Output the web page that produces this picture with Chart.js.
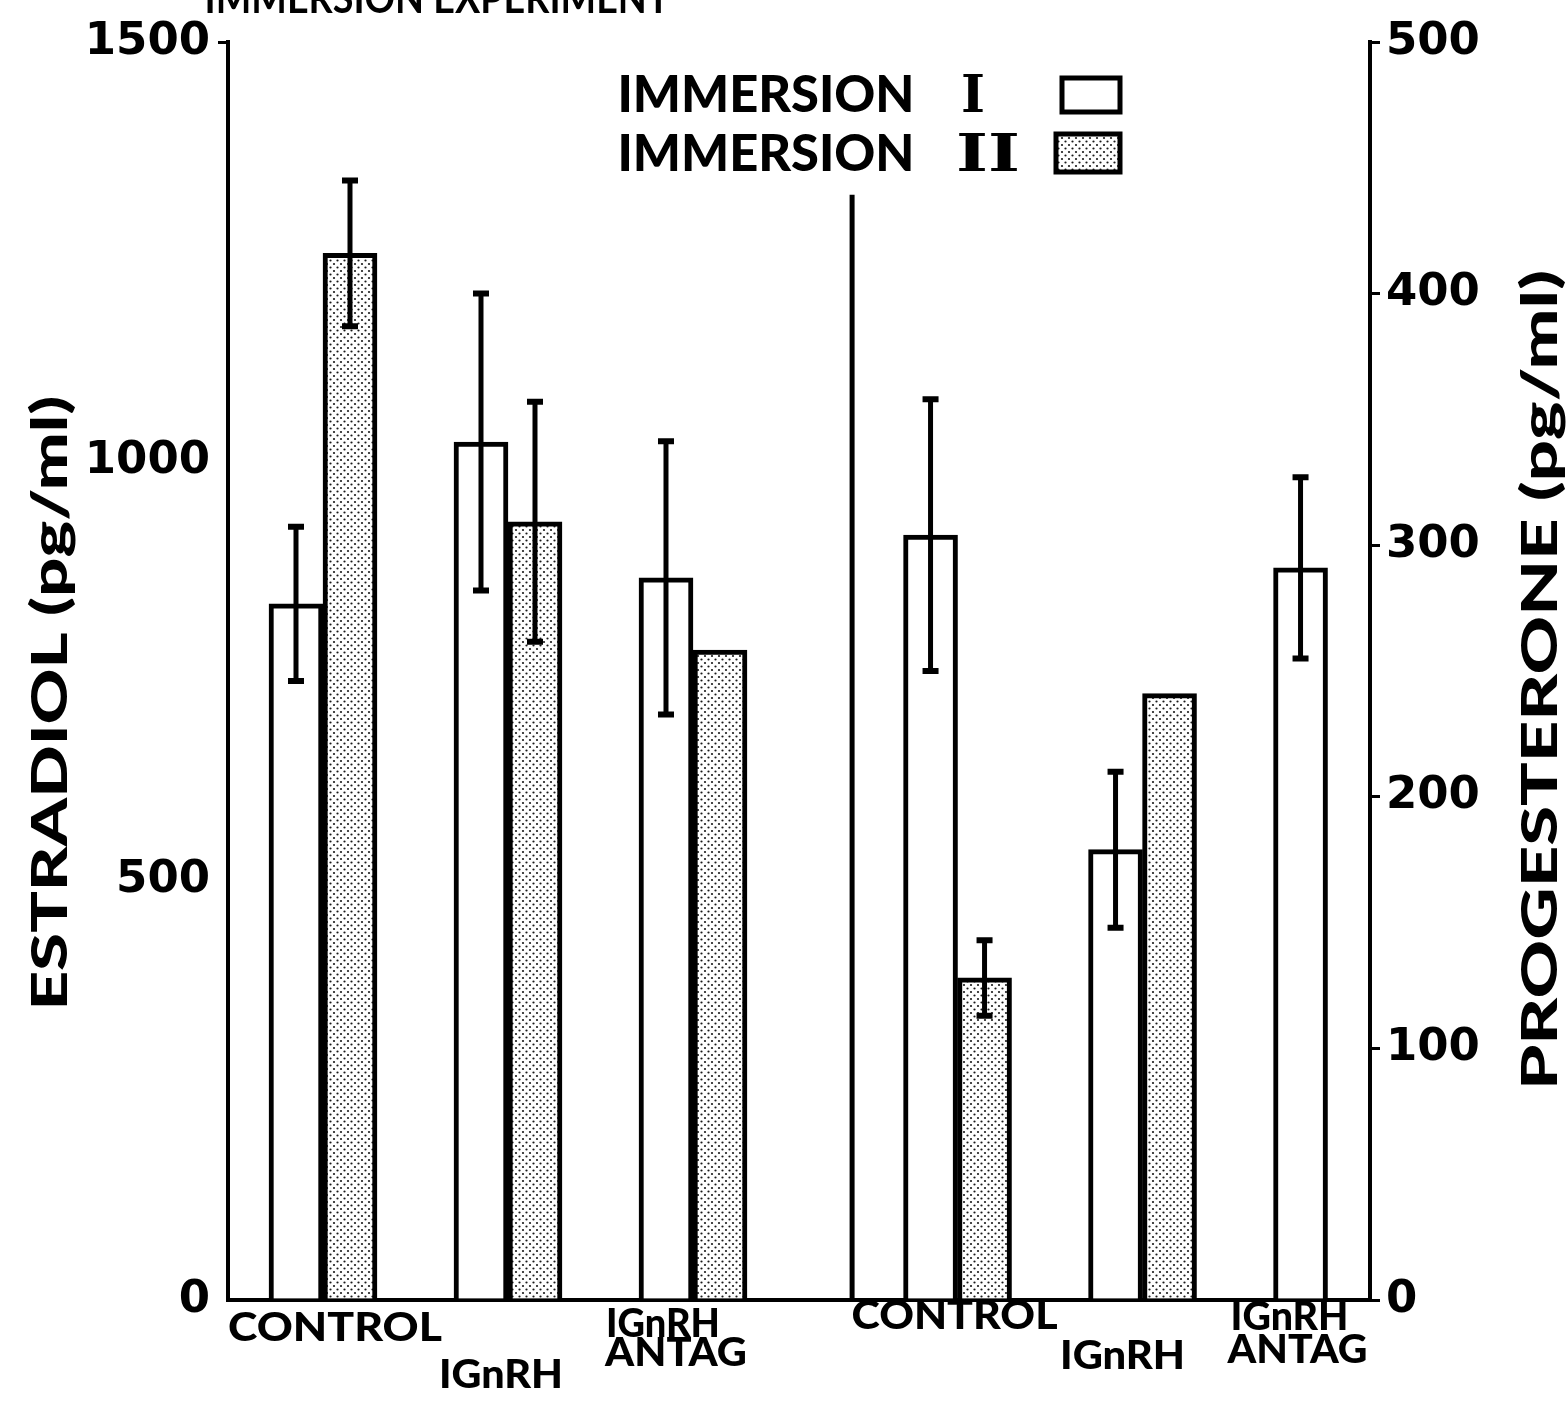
<!DOCTYPE html>
<html><head><meta charset="utf-8">
<script src="https://cdn.jsdelivr.net/npm/chart.js@4.4.1/dist/chart.umd.min.js"></script>
<style>html,body{margin:0;padding:0;background:#fff;} #wrap{width:1567px;height:1405px;position:relative;}</style>
</head><body><div id="wrap"><canvas id="c" width="1567" height="1405"></canvas></div>
<script>
// ---------------- DATA ----------------
const groupLabels = [['CONTROL'], ['IGnRH'], ['IGnRH', 'ANTAG'], ['CONTROL'], ['IGnRH'], ['IGnRH', 'ANTAG']];
const seriesNames = ['IMMERSION I', 'IMMERSION II'];
const estradiolI = [830, 1023, 861];
const estradiolII = [1248, 928, 775];
const estradiolErrI = [92, 177, 163];
const estradiolErrII = [87, 143, null];
const progesteroneI = [304, 179, 291];
const progesteroneII = [128, 241, null];
const progesteroneErrI = [54, 31, 36];
const progesteroneErrII = [15, null, null];
const estradiolTicks = [0, 500, 1000, 1500];
const progesteroneTicks = [0, 100, 200, 300, 400, 500];
const titleText = 'IMMERSION EXPERIMENT';
const leftTitle = 'ESTRADIOL (pg/ml)';
const rightTitle = 'PROGESTERONE (pg/ml)';

// ---------------- LAYOUT ----------------
const GAP = 0.43;                 // extra space between the two hormone groups
const groupPos = i => i + (i >= 3 ? GAP : 0);
const X_MIN = -0.5135, X_MAX = 5.6595;
const SEP_POS = 2.86, SEP_TOP = 1318;
const labelLayout = [
  [{dx: 12, cy: 1326, w: 214}],
  [{dx: -7, cy: 1373, w: 124}],
  [{dx: -30, cy: 1322, w: 114}, {dx: -17, cy: 1351, w: 142}],
  [{dx: -3, cy: 1314, w: 206}],
  [{dx: -20, cy: 1354, w: 125}],
  [{dx: -38, cy: 1315, w: 118}, {dx: -30, cy: 1348, w: 140}]
];
const FONT = 'Lato';
const TICK_FONT = {family: 'DejaVu Sans', weight: 'bold', size: 45};

const canvas = document.getElementById('c');
const ctx0 = canvas.getContext('2d');

function makePattern(ctx) {
  const p = document.createElement('canvas'); p.width = 7; p.height = 7;
  const g = p.getContext('2d');
  g.fillStyle = '#fff'; g.fillRect(0, 0, 7, 7);
  g.fillStyle = '#1a1a1a';
  g.beginPath(); g.arc(1.5, 1.5, 1.1, 0, Math.PI * 2); g.fill();
  g.beginPath(); g.arc(5, 5, 1.1, 0, Math.PI * 2); g.fill();
  return ctx.createPattern(p, 'repeat');
}
const dots = makePattern(ctx0);

function fitText(ctx, text, cx, cy, capH, w, opts = {}) {
  const fam = opts.family || FONT;
  const weight = opts.weight || '900';
  const size = capH / 0.72;
  ctx.save();
  ctx.font = `${weight} ${size}px "${fam}"`;
  const m = ctx.measureText(text).width;
  ctx.translate(cx, cy);
  if (opts.rot) ctx.rotate(opts.rot);
  ctx.scale(w ? w / m : 1, 1);
  ctx.textAlign = 'center';
  ctx.textBaseline = 'alphabetic';
  ctx.fillStyle = '#000';
  ctx.fillText(text, 0, capH / 2);
  ctx.restore();
}

const toPts = (vals, offset) => vals.map((v, i) => ({x: groupPos(i + offset), y: v}));

const decorPlugin = {
  id: 'decor',
  afterDatasetsDraw(chart) {
    const ctx = chart.ctx;
    // error bars
    chart.data.datasets.forEach((ds, di) => {
      const meta = chart.getDatasetMeta(di);
      const ys = chart.scales[ds.yAxisID];
      meta.data.forEach((el, i) => {
        const e = ds.err[i], v = ds.data[i].y;
        if (e == null || v == null) return;
        const x = el.x, yt = ys.getPixelForValue(v + e), yb = ys.getPixelForValue(v - e);
        ctx.save();
        ctx.strokeStyle = '#000';
        ctx.lineWidth = 5;
        ctx.beginPath(); ctx.moveTo(x, yt); ctx.lineTo(x, yb); ctx.stroke();
        ctx.lineWidth = 6;
        ctx.beginPath(); ctx.moveTo(x - 8, yt); ctx.lineTo(x + 8, yt);
        ctx.moveTo(x - 8, yb); ctx.lineTo(x + 8, yb); ctx.stroke();
        ctx.restore();
      });
    });
    const xs = chart.scales.x, y = chart.scales.y;
    // separator line between hormone groups
    ctx.save();
    ctx.strokeStyle = '#000'; ctx.lineWidth = 5;
    const sx = xs.getPixelForValue(SEP_POS);
    ctx.beginPath(); ctx.moveTo(sx, y.getPixelForValue(SEP_TOP)); ctx.lineTo(sx, y.getPixelForValue(0)); ctx.stroke();
    ctx.restore();
    // category labels
    groupLabels.forEach((lines, i) => {
      const cx = xs.getPixelForValue(groupPos(i));
      lines.forEach((t, k) => {
        const L = labelLayout[i][k];
        fitText(ctx, t, cx + L.dx, L.cy, 29, L.w);
      });
    });
    // axis titles
    fitText(ctx, leftTitle, 49, 703, 36, 615, {rot: -Math.PI / 2});
    fitText(ctx, rightTitle, 1539, 680, 36, 820, {rot: -Math.PI / 2});
    // cut-off top title
    fitText(ctx, titleText, 437, -2, 30, 465, {weight: '700'});
    // legend
    const rows = [{cy: 93, box: [1062, 78, 58, 34], num: 'I', nx: 973, nw: 24},
                  {cy: 152, box: [1056, 134, 64, 38], num: 'II', nx: 988, nw: 64}];
    seriesNames.forEach((name, r) => {
      const R = rows[r];
      fitText(ctx, name.split(' ')[0], 766, R.cy, 37, 297);
      fitText(ctx, R.num, R.nx, R.cy, 37, R.nw, {family: 'DejaVu Serif', weight: '700'});
      ctx.save();
      ctx.fillStyle = r === 0 ? '#fff' : dots;
      ctx.fillRect(...R.box);
      ctx.strokeStyle = '#000'; ctx.lineWidth = 5;
      ctx.strokeRect(...R.box);
      ctx.restore();
    });
  }
};

const barCommon = {borderColor: '#000', borderWidth: 5, barThickness: 54};

new Chart(canvas, {
  type: 'bar',
  data: {
    datasets: [
      {label: seriesNames[0] + ' estradiol', data: toPts(estradiolI, 0), err: estradiolErrI, yAxisID: 'y', stack: 'I', backgroundColor: '#fff', ...barCommon},
      {label: seriesNames[1] + ' estradiol', data: toPts(estradiolII, 0), err: estradiolErrII, yAxisID: 'y', stack: 'II', backgroundColor: dots, ...barCommon},
      {label: seriesNames[0] + ' progesterone', data: toPts(progesteroneI, 3), err: progesteroneErrI, yAxisID: 'y1', stack: 'I', backgroundColor: '#fff', ...barCommon},
      {label: seriesNames[1] + ' progesterone', data: toPts(progesteroneII, 3), err: progesteroneErrII, yAxisID: 'y1', stack: 'II', backgroundColor: dots, ...barCommon}
    ]
  },
  options: {
    responsive: false,
    animation: false,
    layout: {padding: {top: 42, left: 0, right: 0, bottom: 0}},
    plugins: {legend: {display: false}, tooltip: {enabled: false}, title: {display: false}},
    scales: {
      x: {
        type: 'linear', position: 'bottom', min: X_MIN, max: X_MAX, offset: false,
        afterBuildTicks: s => { s.ticks = groupLabels.map((l, i) => ({value: groupPos(i)})); },
        ticks: {display: false},
        grid: {display: false, drawTicks: false, offset: false},
        border: {display: true, color: '#000', width: 4},
        afterFit: s => { s.height = 105; }
      },
      y: {
        position: 'left', min: 0, max: 1500, stacked: false,
        afterBuildTicks: s => { s.ticks = estradiolTicks.map(v => ({value: v})); },
        ticks: {color: '#000', padding: 8, font: TICK_FONT, callback: v => String(v)},
        grid: {drawOnChartArea: false, drawTicks: true, tickLength: 10, lineWidth: 3,
               color: c => (c.tick && c.tick.value === 1500) ? '#000' : 'rgba(0,0,0,0)'},
        border: {display: true, color: '#000', width: 4},
        afterFit: s => { s.width = 228; }
      },
      y1: {
        position: 'right', min: 0, max: 500, stacked: false,
        afterBuildTicks: s => { s.ticks = progesteroneTicks.map(v => ({value: v})); },
        ticks: {color: '#000', padding: 6, font: TICK_FONT, callback: v => String(v)},
        grid: {drawOnChartArea: false, drawTicks: true, tickLength: 10, lineWidth: 3, color: '#000'},
        border: {display: true, color: '#000', width: 4},
        afterFit: s => { s.width = 197; }
      }
    }
  },
  plugins: [decorPlugin]
});
</script>
</body></html>
